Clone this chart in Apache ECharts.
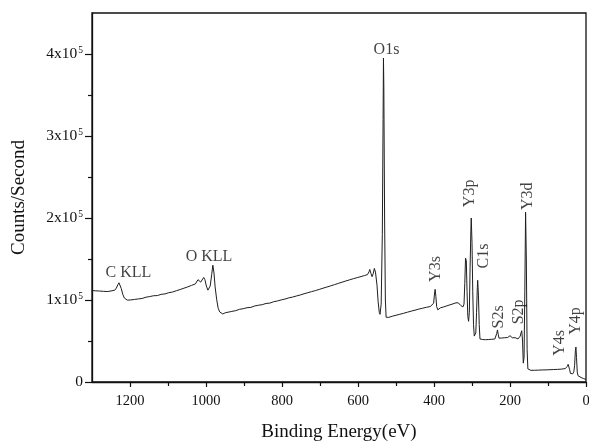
<!DOCTYPE html>
<html>
<head>
<meta charset="utf-8">
<script src="https://cdn.jsdelivr.net/npm/echarts@6/dist/echarts.min.js"></script>
<style>
  html, body { margin: 0; padding: 0; background: #fff; }
  #chart { width: 589px; height: 442px; }
</style>
</head>
<body>
<div id="chart"></div>
<script>
// XPS survey spectrum: binding energy (eV) vs. intensity (counts/s)
const bindingEnergy = [
  1300, 1295, 1290, 1285, 1280, 1275, 1270, 1265, 1260, 1255, 1250, 1245, 1240, 1236, 1232, 1229, 1226, 1223, 1219, 1215,
  1211, 1207, 1203, 1198, 1193, 1188, 1183, 1178, 1173, 1168, 1163, 1158, 1153, 1148, 1143, 1138, 1133, 1128, 1123, 1118,
  1113, 1108, 1103, 1098, 1093, 1088, 1083, 1078, 1073, 1068, 1063, 1058, 1053, 1048, 1043, 1038, 1033, 1028, 1024, 1021,
  1018, 1014, 1010, 1006, 1003, 999, 995, 992, 989, 985, 982, 979, 976, 972, 968, 964, 960, 956, 952, 948,
  944, 940, 936, 932, 927, 922, 917, 912, 907, 902, 897, 892, 887, 882, 877, 872, 867, 862, 857, 852,
  847, 842, 837, 832, 827, 822, 817, 812, 807, 802, 797, 792, 787, 782, 777, 772, 767, 762, 757, 752,
  747, 742, 737, 732, 727, 722, 717, 712, 707, 702, 697, 692, 687, 682, 677, 672, 667, 662, 657, 652,
  647, 642, 637, 632, 627, 622, 617, 612, 607, 602, 597, 592, 587, 583, 579, 575, 571, 569, 566, 563,
  560, 557, 554, 550, 547, 544, 542, 539, 536, 534, 533, 532, 530, 528, 526, 523, 519, 515, 510, 505,
  500, 495, 490, 485, 480, 475, 470, 465, 460, 455, 450, 445, 440, 435, 430, 425, 420, 415, 410, 405,
  401, 399, 397, 395, 393, 390, 387, 383, 379, 375, 370, 366, 362, 358, 354, 350, 346, 342, 339, 336,
  333, 330, 327, 324, 321, 319, 317, 315, 313, 311, 309, 307, 305, 303, 302, 300, 298, 296, 294, 292,
  290, 288, 286, 285, 283, 281, 279, 276, 272, 268, 264, 260, 256, 252, 248, 244, 240, 237, 235, 233,
  231, 229, 226, 222, 218, 214, 210, 206, 202, 200, 197, 194, 190, 186, 182, 179, 176, 173, 171, 169,
  167, 165, 163, 161, 159, 157, 155, 153, 150, 145, 140, 135, 130, 125, 120, 115, 110, 105, 100, 95,
  90, 85, 80, 75, 70, 65, 60, 55, 52, 49, 47, 45, 43, 41, 39, 37, 35, 32, 30, 28,
  26.5, 25, 23, 21, 19, 16, 13, 11, 9, 7, 5, 2, 0
];
const countsPerSecond = [
  111500, 110800, 111200, 110200, 110900, 109800, 110600, 109500, 110300, 109200, 111000, 112600, 112000, 114500, 118500, 121000, 119500, 114000, 107000, 102500,
  100600, 99800, 100400, 100100, 101000, 100700, 101600, 101300, 102200, 101900, 102900, 103400, 103100, 104200, 104000, 105200, 105600, 105400, 106600, 106900,
  107600, 107400, 108500, 108900, 109800, 109700, 110900, 111300, 112200, 112800, 113500, 114400, 114900, 116000, 116800, 117800, 118400, 119600, 121800, 124800,
  122500, 121800, 123500, 127500, 125000, 117000, 112000, 111800, 117000, 131000, 142500, 133000, 116000, 101000, 90000, 85500, 84200, 83000, 83800, 84600,
  84200, 85300, 86500, 86100, 87300, 87000, 88100, 88600, 88300, 89400, 89900, 90600, 91100, 91000, 92200, 92700, 93100, 93600, 94400, 94300,
  95400, 95800, 96500, 96200, 97300, 97900, 98600, 98800, 99700, 100100, 100800, 101200, 102000, 102600, 103200, 103600, 104500, 104900, 105700, 106100,
  107000, 107600, 108200, 108900, 109500, 110200, 111000, 111500, 112400, 112900, 113800, 114400, 115100, 115800, 116600, 117200, 118100, 118700, 119400, 120200,
  121000, 121700, 122300, 123200, 123900, 124600, 125300, 126000, 126400, 127300, 127900, 128600, 129200, 129800, 130400, 131000, 134500, 137200, 132500, 128500,
  132000, 138500, 134000, 118000, 98000, 85000, 82500, 95000, 180000, 320000, 395000, 360000, 200000, 100000, 79000, 78000, 78800, 79500, 80200, 80600,
  81400, 81900, 82600, 83200, 83800, 84500, 85100, 85800, 86400, 86900, 87600, 88100, 88900, 89400, 90000, 90500, 91100, 91400, 92000, 92400,
  96000, 106000, 113000, 104000, 92000, 88000, 89000, 90500, 90000, 91500, 92300, 92900, 93600, 94100, 94800, 95300, 96000, 96600, 98000, 96500,
  95600, 93500, 92000, 91500, 95000, 120000, 151000, 148000, 110000, 80000, 74000, 85000, 140000, 185000, 200000, 170000, 110000, 70000, 56000, 55000,
  60000, 85000, 115000, 124000, 105000, 70000, 52500, 51200, 51800, 51000, 51600, 51100, 51800, 51400, 52100, 51700, 52400, 53500, 59000, 63500,
  58000, 53500, 53000, 53600, 53200, 54000, 53800, 54300, 55500, 56500, 55000, 54000, 54400, 54000, 53200, 52500, 54000, 56000, 60000, 62500,
  50000, 23000, 30000, 110000, 207000, 150000, 40000, 16000, 14000, 14200, 13800, 14300, 14100, 14500, 14200, 14700, 14400, 14800, 14600, 15000,
  14800, 15200, 15000, 15400, 15300, 15700, 15800, 16300, 17000, 19000, 21500, 20000, 15000, 10500, 9000, 9200, 10000, 12500, 20000, 38000,
  42600, 30000, 12000, 7700, 7000, 6200, 5500, 4800, 5600, 4300, 3800, 3300, 3000
];

// Peak assignments and where their captions sit (data coordinates)
const peakNames    = ['C KLL', 'O KLL', 'O1s', 'Y3s', 'Y3p', 'C1s', 'S2s', 'S2p', 'Y3d', 'Y4s', 'Y4p'];
const peakLabelEV  = [1204, 992, 525, 395.5, 305.5, 268.5, 229, 176, 152, 68, 28];
const peakLabelCts = [132900, 152300, 405000, 137800, 230000, 153600, 79400, 85500, 226500, 47800, 74500];
const peakVertical = [false, false, false, true, true, true, true, true, true, true, true];

// Axis tick positions
const xMajorTicks = [0, 200, 400, 600, 800, 1000, 1200];
const xMinorTicks = [100, 300, 500, 700, 900, 1100];
const yMajorTicks = [0, 100000, 200000, 300000, 400000];
const yMinorTicks = [50000, 150000, 250000, 350000];

const FONT = 'Liberation Serif';
const INK = '#111';

const spectrum = bindingEnergy.map((e, i) => [e, countsPerSecond[i]]);
const captions = peakNames.map((name, i) => ({
  name: name,
  value: [peakLabelEV[i], peakLabelCts[i]],
  label: { rotate: peakVertical[i] ? 90 : 0 }
}));

const chart = echarts.init(document.getElementById('chart'), null, { renderer: 'canvas' });

const plotRect = { left: 92, top: 13, right: 3, bottom: 60, outerBoundsMode: 'none' };
const xBase = {
  type: 'value', min: 0, max: 1300, inverse: true, position: 'bottom',
  splitLine: { show: false }
};
const yBase = {
  type: 'value', min: 0, max: 450000, position: 'left',
  splitLine: { show: false }
};

chart.setOption({
  animation: false,
  backgroundColor: '#fff',
  grid: [
    Object.assign({ show: true, borderColor: INK, borderWidth: 1.3 }, plotRect),
    // same rectangle again, carrying only the minor tick marks
    Object.assign({ show: false }, plotRect)
  ],
  xAxis: [
    Object.assign({}, xBase, {
      gridIndex: 0,
      interval: 200,
      name: 'Binding Energy(eV)',
      nameLocation: 'middle',
      nameGap: 41,
      nameTextStyle: { fontFamily: FONT, fontSize: 19, color: INK },
      axisLine: { show: true, onZero: false, lineStyle: { color: INK, width: 1.3 } },
      axisTick: { show: true, length: 5, customValues: xMajorTicks, lineStyle: { color: INK, width: 1.2 } },
      axisLabel: {
        customValues: xMajorTicks, margin: 12,
        fontFamily: FONT, fontSize: 14.5, color: INK,
        formatter: v => String(v)
      }
    }),
    Object.assign({}, xBase, {
      gridIndex: 1,
      interval: 100,
      axisLine: { show: false, onZero: false },
      axisTick: { show: true, length: 4, customValues: xMinorTicks, lineStyle: { color: INK, width: 1.2 } },
      axisLabel: { show: false }
    })
  ],
  yAxis: [
    Object.assign({}, yBase, {
      gridIndex: 0,
      interval: 100000,
      name: 'Counts/Second',
      nameLocation: 'middle',
      nameGap: 63,
      nameTextStyle: { fontFamily: FONT, fontSize: 19, color: INK },
      axisLine: { show: true, onZero: false, lineStyle: { color: INK, width: 1.3 } },
      axisTick: { show: true, length: 7, customValues: yMajorTicks, lineStyle: { color: INK, width: 1.2 } },
      axisLabel: {
        customValues: yMajorTicks, margin: 9,
        fontFamily: FONT, fontSize: 15.5, color: INK,
        formatter: v => v === 0 ? '0' : (v / 100000) + 'x10{sup|5}',
        rich: {
          sup: { fontFamily: FONT, fontSize: 9.5, color: INK, verticalAlign: 'top', padding: [0, 0, 8, 1] }
        }
      }
    }),
    Object.assign({}, yBase, {
      gridIndex: 1,
      interval: 50000,
      axisLine: { show: false, onZero: false },
      axisTick: { show: true, length: 4, customValues: yMinorTicks, lineStyle: { color: INK, width: 1.2 } },
      axisLabel: { show: false }
    })
  ],
  series: [
    {
      type: 'line',
      xAxisIndex: 0, yAxisIndex: 0,
      data: spectrum,
      showSymbol: false,
      symbol: 'none',
      lineStyle: { color: '#1e1e1e', width: 1 },
      z: 3
    },
    {
      type: 'scatter',
      xAxisIndex: 0, yAxisIndex: 0,
      data: captions,
      symbolSize: 0,
      silent: true,
      label: {
        show: true,
        position: 'inside',
        formatter: p => p.name,
        fontFamily: FONT, fontSize: 16, color: INK,
        align: 'center', verticalAlign: 'middle'
      },
      z: 4
    }
  ]
});
</script>
</body>
</html>
